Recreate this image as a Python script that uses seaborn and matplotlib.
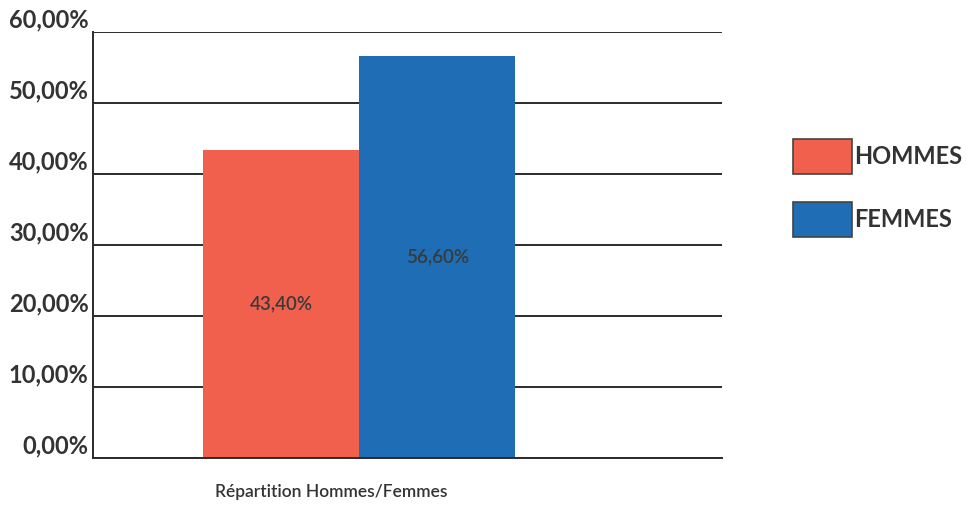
import matplotlib
matplotlib.use("Agg")
import matplotlib.pyplot as plt
import matplotlib.transforms as mtransforms
import seaborn as sns
import pandas as pd

# data
groups = ["HOMMES", "FEMMES"]
values = [43.40, 56.60]
category = "Répartition Hommes/Femmes"
bar_colors = ["#F0604D", "#1E6DB5"]
y_ticks = [0, 10, 20, 30, 40, 50, 60]
y_tick_labels = ["0,00%", "10,00%", "20,00%", "30,00%", "40,00%", "50,00%", "60,00%"]

df = pd.DataFrame({"cat": [category] * len(groups), "sexe": groups, "pct": values})

sns.set_style("white")
plt.rcParams["font.family"] = ["Lato", "DejaVu Sans"]

fig = plt.figure(figsize=(9.67, 5.11), dpi=100)
ax = fig.add_axes([0.096, 0.104, 0.651, 0.833])

sns.barplot(data=df, x="cat", y="pct", hue="sexe", hue_order=groups,
            palette=bar_colors, width=0.8, saturation=1, linewidth=0,
            ax=ax, legend=True)

# gridlines
for t in y_ticks:
    ax.axhline(t, color="#2b2b2b", lw=1.4, zorder=0)

ax.set_ylim(0, 60)
ax.set_xlim(-0.682, 0.931)
ax.set_yticks(y_ticks)
ax.set_yticklabels(y_tick_labels, fontsize=17, fontweight="bold", color="#333333")
ax.tick_params(axis="y", length=0, pad=3)
# labels sit a little above their gridlines, like in the scan
shift = mtransforms.ScaledTranslation(0, 14 / 100, fig.dpi_scale_trans)
for lab in ax.get_yticklabels():
    lab.set_transform(lab.get_transform() + shift)
ax.set_xticks([])
ax.set_xlabel("")
ax.set_ylabel("")

for s in ["top", "right"]:
    ax.spines[s].set_visible(False)
ax.spines["left"].set_color("#2b2b2b")
ax.spines["left"].set_linewidth(1.4)
ax.spines["bottom"].set_color("#2b2b2b")
ax.spines["bottom"].set_linewidth(1.4)

# value labels inside bars
for cont in ax.containers:
    ax.bar_label(cont, labels=[f"{v:.2f}%".replace(".", ",") for v in cont.datavalues],
                 label_type="center", fontsize=13.5, fontweight="semibold",
                 color="#3a3a3a")

fig.text(331 / 967, 1 - 492 / 511, category, ha="center", va="center",
         fontsize=12.5, fontweight="semibold", color="#333333")

handles, labels = ax.get_legend_handles_labels()
for h in handles:
    h.set_edgecolor("#444444")
    h.set_linewidth(1.2)
ax.legend(handles, labels, loc="center left", bbox_to_anchor=(793 / 967, 1 - 188 / 511),
          bbox_transform=fig.transFigure, frameon=False,
          prop={"weight": "bold", "size": 17}, handlelength=2.5, handleheight=1.9,
          handletextpad=0.1, labelspacing=1.2, borderpad=0, borderaxespad=0,
          labelcolor="#333333")

fig.savefig("out.png", dpi=100)
